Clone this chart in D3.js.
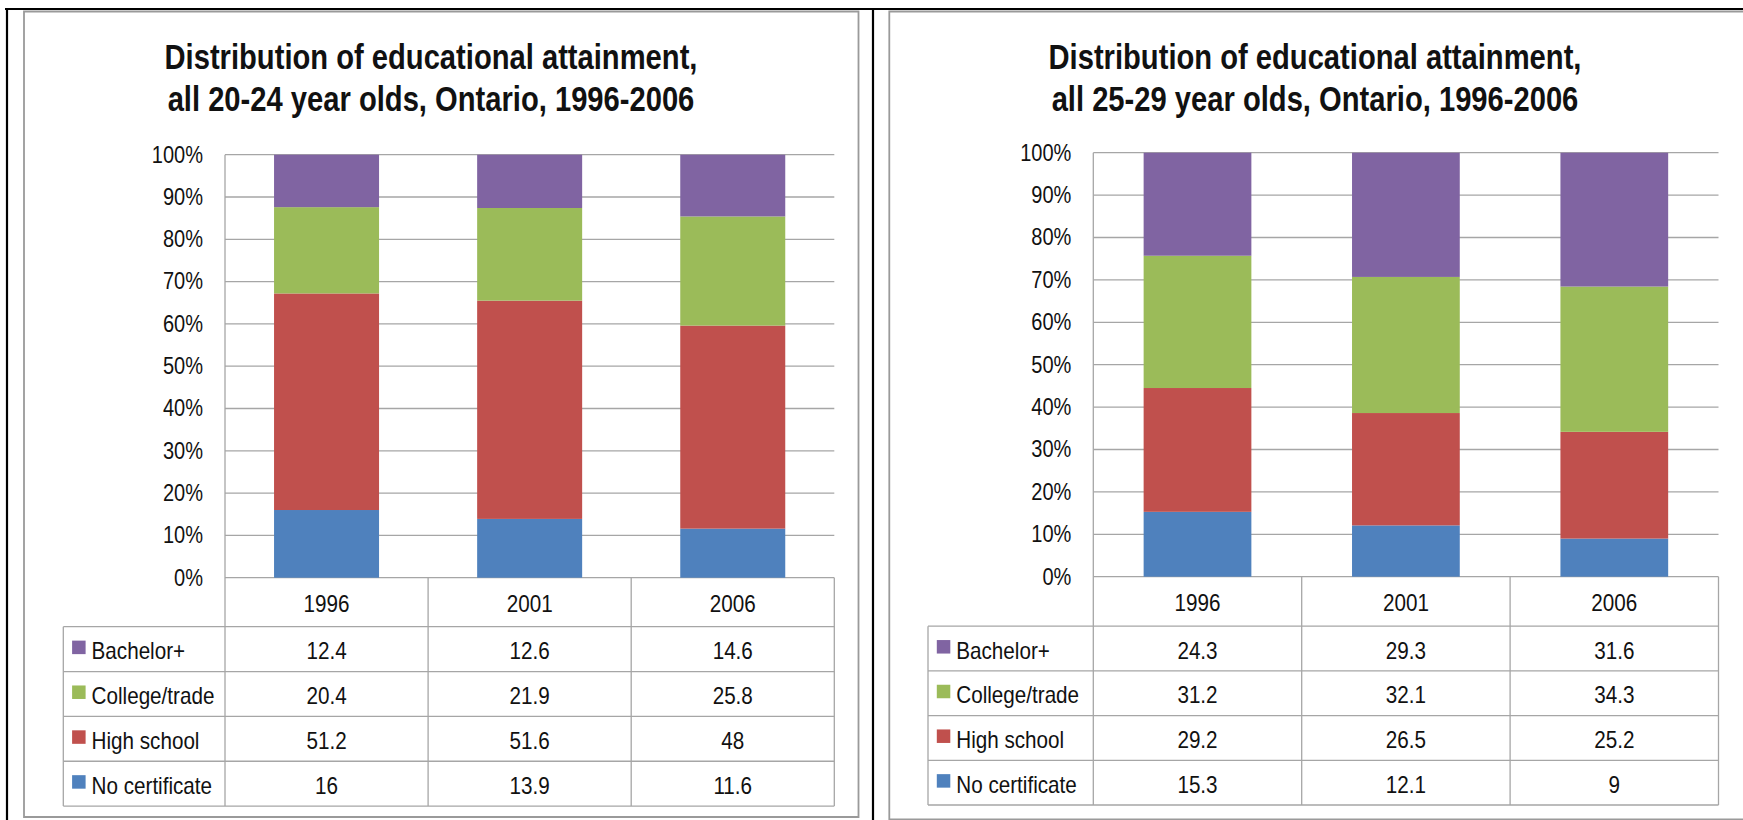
<!DOCTYPE html>
<html><head><meta charset="utf-8">
<script src="https://cdn.jsdelivr.net/npm/d3@7"></script>
<style>
body{margin:0;background:#fff;}
svg{display:block;}
text{font-family:"Liberation Sans",Arial,sans-serif;fill:#111;}
</style>
</head><body>
<svg id="chart" width="1743" height="820"></svg>
<script>
// ---------- data ----------
const categories = ["1996", "2001", "2006"];
const seriesNames = ["No certificate", "High school", "College/trade", "Bachelor+"]; // bottom -> top
const tableOrder = ["Bachelor+", "College/trade", "High school", "No certificate"];
const yTickValues = [0, 0.1, 0.2, 0.3, 0.4, 0.5, 0.6, 0.7, 0.8, 0.9, 1.0];

const titleLeft = ["Distribution of educational attainment,", "all 20-24 year olds, Ontario, 1996-2006"];
const titleRight = ["Distribution of educational attainment,", "all 25-29 year olds, Ontario, 1996-2006"];

// 20-24 year olds
const noCert2024 = [16, 13.9, 11.6];
const highSchool2024 = [51.2, 51.6, 48];
const college2024 = [20.4, 21.9, 25.8];
const bachelor2024 = [12.4, 12.6, 14.6];

// 25-29 year olds
const noCert2529 = [15.3, 12.1, 9];
const highSchool2529 = [29.2, 26.5, 25.2];
const college2529 = [31.2, 32.1, 34.3];
const bachelor2529 = [24.3, 29.3, 31.6];

const seriesColors = {
  "No certificate": "#4F81BD",
  "High school": "#C0504D",
  "College/trade": "#9BBB59",
  "Bachelor+": "#8064A2"
};

// ---------- layout ----------
const svg = d3.select("#chart");
const GRID = "#A6A6A6";

svg.append("line").attr("x1", 5).attr("x2", 1743).attr("y1", 9).attr("y2", 9)
  .attr("stroke", "#000").attr("stroke-width", 2.2);
svg.append("line").attr("x1", 7).attr("x2", 7).attr("y1", 8).attr("y2", 820)
  .attr("stroke", "#000").attr("stroke-width", 2.2);
svg.append("line").attr("x1", 873).attr("x2", 873).attr("y1", 8).attr("y2", 820)
  .attr("stroke", "#000").attr("stroke-width", 2.2);

svg.append("path").attr("d", "M24,817 L24,11.5 L858.5,11.5 L858.5,817 Z")
  .attr("fill", "none").attr("stroke", "#9A9A9A").attr("stroke-width", 1.8);
svg.append("path").attr("d", "M1745,11.5 L889.3,11.5 L889.3,819.3 L1745,819.3")
  .attr("fill", "none").attr("stroke", "#9A9A9A").attr("stroke-width", 1.8);

const panels = [
  {
    title: titleLeft, titleX: 431,
    values: {"No certificate": noCert2024, "High school": highSchool2024, "College/trade": college2024, "Bachelor+": bachelor2024},
    plotLeft: 225, plotRight: 834.3, yTop: 154.7, yBottom: 577.7,
    tableLeft: 63.3, headerBottom: 626.7, rowH: 44.85
  },
  {
    title: titleRight, titleX: 1315,
    values: {"No certificate": noCert2529, "High school": highSchool2529, "College/trade": college2529, "Bachelor+": bachelor2529},
    plotLeft: 1093.3, plotRight: 1718.5, yTop: 152.7, yBottom: 576.7,
    tableLeft: 928, headerBottom: 626.2, rowH: 44.7
  }
];

// condense text horizontally (emulating a narrow font like Calibri)
function condense(sel, factor) {
  sel.each(function () {
    const w = this.getComputedTextLength();
    d3.select(this).attr("textLength", w * factor).attr("lengthAdjust", "spacingAndGlyphs");
  });
}

panels.forEach(p => {
  const g = svg.append("g");

  const tl = g.selectAll("text.title").data(p.title).join("text").attr("class", "title")
    .attr("x", p.titleX).attr("y", (d, i) => 69 + i * 41.5)
    .attr("text-anchor", "middle")
    .style("font-size", "35px").style("font-weight", "bold")
    .text(d => d);
  condense(tl, 0.833);

  const x = d3.scaleBand().domain(categories).range([p.plotLeft, p.plotRight])
    .paddingInner(0.483).paddingOuter(0.2415);
  const y = d3.scaleLinear().domain([0, 1]).range([p.yBottom, p.yTop]);

  g.selectAll("line.grid").data(yTickValues).join("line").attr("class", "grid")
    .attr("x1", p.plotLeft).attr("x2", p.plotRight)
    .attr("y1", d => y(d)).attr("y2", d => y(d))
    .attr("stroke", GRID).attr("stroke-width", 1.3);

  const rows = categories.map((c, i) => {
    const r = {cat: c};
    seriesNames.forEach(s => r[s] = p.values[s][i]);
    return r;
  });
  const stacked = d3.stack().keys(seriesNames).offset(d3.stackOffsetExpand)(rows);
  g.selectAll("g.series").data(stacked).join("g").attr("class", "series")
    .attr("fill", d => seriesColors[d.key])
    .selectAll("rect").data(d => d).join("rect")
    .attr("x", d => x(d.data.cat))
    .attr("width", x.bandwidth())
    .attr("y", d => y(d[1]))
    .attr("height", d => y(d[0]) - y(d[1]));

  const yAxis = d3.axisLeft(y).tickValues(yTickValues).tickFormat(d3.format(".0%"))
    .tickSize(0).tickPadding(22);
  const ax = g.append("g").attr("transform", `translate(${p.plotLeft},0)`).call(yAxis);
  ax.select(".domain").remove();
  ax.selectAll("text").style("font-size", "23px").style("font-family", null).attr("fill", "#111");
  condense(ax.selectAll("text"), 0.87);

  const tableBottom = p.headerBottom + p.rowH * tableOrder.length;
  const step = x.step();
  const colEdges = categories.map((c, i) => p.plotLeft + i * step).concat([p.plotRight]);

  g.append("line").attr("x1", p.plotLeft).attr("x2", p.plotLeft)
    .attr("y1", p.yTop).attr("y2", tableBottom).attr("stroke", GRID).attr("stroke-width", 1.3);
  colEdges.slice(1).forEach(cx => {
    g.append("line").attr("x1", cx).attr("x2", cx).attr("y1", p.yBottom).attr("y2", tableBottom)
      .attr("stroke", GRID).attr("stroke-width", 1.3);
  });
  g.append("line").attr("x1", p.tableLeft).attr("x2", p.tableLeft)
    .attr("y1", p.headerBottom).attr("y2", tableBottom).attr("stroke", GRID).attr("stroke-width", 1.3);
  tableOrder.forEach((s, i) => {
    const yy = p.headerBottom + i * p.rowH;
    g.append("line").attr("x1", p.tableLeft).attr("x2", p.plotRight).attr("y1", yy).attr("y2", yy)
      .attr("stroke", GRID).attr("stroke-width", 1.3);
  });
  g.append("line").attr("x1", p.tableLeft).attr("x2", p.plotRight).attr("y1", tableBottom).attr("y2", tableBottom)
    .attr("stroke", GRID).attr("stroke-width", 1.3);

  const hdr = g.selectAll("text.hdr").data(categories).join("text").attr("class", "hdr")
    .attr("x", d => x(d) + x.bandwidth() / 2)
    .attr("y", (p.yBottom + p.headerBottom) / 2 + 9.5)
    .attr("text-anchor", "middle").style("font-size", "24px").text(d => d);
  condense(hdr, 0.86);

  tableOrder.forEach((s, i) => {
    const cy = p.headerBottom + (i + 0.5) * p.rowH;
    g.append("rect").attr("x", p.tableLeft + 8.8).attr("y", cy - 8.5)
      .attr("width", 13.5).attr("height", 13.5).attr("fill", seriesColors[s]);
    const lab = g.append("text").attr("x", p.tableLeft + 28.3).attr("y", cy + 10)
      .style("font-size", "24px").text(s);
    condense(lab, 0.86);
    const vals = g.selectAll(null).data(categories).join("text")
      .attr("x", d => x(d) + x.bandwidth() / 2)
      .attr("y", cy + 10)
      .attr("text-anchor", "middle").style("font-size", "24px")
      .text((d, j) => String(p.values[s][j]));
    condense(vals, 0.86);
  });
});
</script>
</body></html>
